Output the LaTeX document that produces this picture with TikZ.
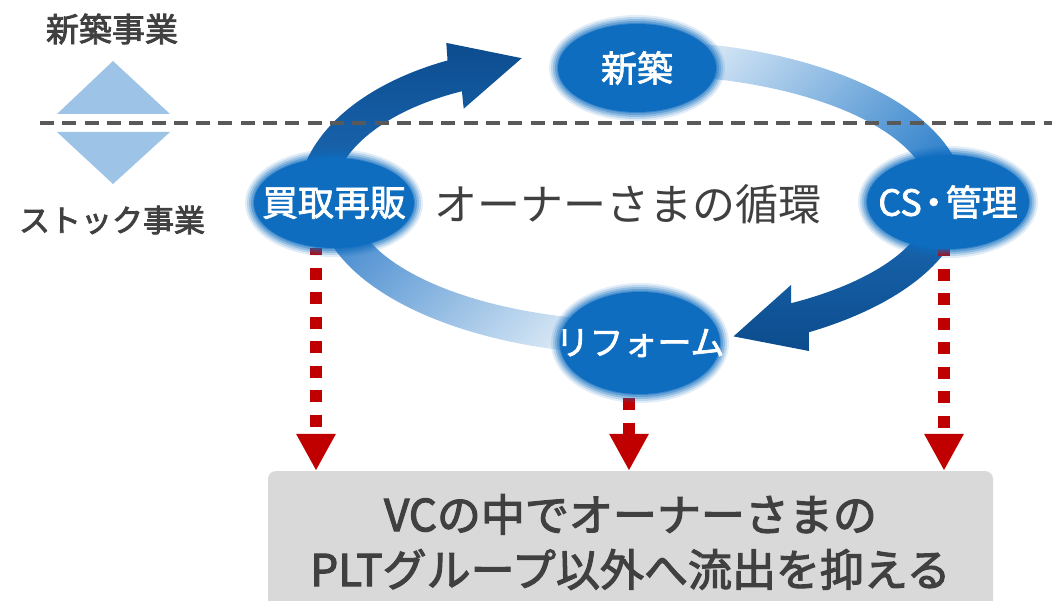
\documentclass[tikz,border=0pt]{standalone}
\usepackage{fontspec}
\setmainfont{Noto Sans CJK JP}
\newfontfamily\jpmed[FakeBold=2.6]{Noto Sans CJK JP}
\newfontfamily\jplite[FakeBold=2]{Noto Sans CJK JP}
\usetikzlibrary{shapes.geometric,arrows.meta}
\definecolor{nblue}{HTML}{0F6DC0}
\definecolor{lttwo}{HTML}{D8E8F6}
\definecolor{mdtwo}{HTML}{3584CC}
\definecolor{mdfour}{HTML}{4B8ED0}
\definecolor{ltfour}{HTML}{E2EEF8}
\definecolor{dkone}{HTML}{0C4C8E}
\definecolor{mdone}{HTML}{1D6CB8}
\definecolor{mdthree}{HTML}{1C6BB7}
\definecolor{dkthree}{HTML}{0C4C8C}
\definecolor{nred}{HTML}{C00000}
\definecolor{divgray}{HTML}{595959}
\definecolor{tgray}{HTML}{404040}
\definecolor{tri}{HTML}{9DC3E6}
\definecolor{boxgray}{HTML}{D9D9D9}
\pgfdeclarelayer{bg}
\pgfsetlayers{bg,main}
\tikzset{
  blob/.style={ellipse, fill=nblue, inner sep=0pt,
    preaction={draw=nblue, line width=18pt, draw opacity=0.12},
    preaction={draw=nblue, line width=14pt, draw opacity=0.18},
    preaction={draw=nblue, line width=10pt, draw opacity=0.25},
    preaction={draw=nblue, line width=6pt, draw opacity=0.35},
    preaction={draw=nblue, line width=2pt, draw opacity=0.5}},
  blobtext/.style={text=white, inner sep=0pt, font=\jplite\fontsize{36}{36}\selectfont},
  lbl/.style={text=tgray, inner sep=0pt},
  redline/.style={draw=nred, line width=12pt, dash pattern=on 12pt off 12.5pt,
    -{Triangle[length=37pt,width=37pt]}},
  divider/.style={draw=divgray, line width=3.5pt, dash pattern=on 14pt off 8.3pt},
  bottombox/.style={fill=boxgray, rounded corners=8pt, minimum width=725pt,
    minimum height=142pt, text=tgray, align=center, inner sep=0pt,
    font=\jpmed\fontsize{44}{55}\selectfont},
}
\begin{document}
\begin{tikzpicture}[x=1pt,y=-1pt]
\useasboundingbox (0,0) rectangle (1052,601);
\clip (0,0) rectangle (1052,601);

% left labels and triangles
\node[lbl, font=\jpmed\fontsize{33}{33}\selectfont] (newlbl) at (112,29) {新築事業};
\node[lbl, font=\jpmed\fontsize{31}{31}\selectfont] (stocklbl) at (112,220) {ストック事業};
\fill[tri] (113,61) -- (170,114) -- (57,114) -- cycle;
\fill[tri] (57,132) -- (170,132) -- (113,184) -- cycle;
\draw[divider] (40,123) -- (1052,123);

% nodes
\node[blob, minimum width=158pt, minimum height=88pt, label={[blobtext]center:新築}] (shin) at (637,68) {};
\node[blob, minimum width=160pt, minimum height=90pt, label={[blobtext]center:買取再販}] (buy) at (334,203) {};
\node[blob, minimum width=162pt, minimum height=94pt, label={[blobtext]center:CS\hspace{-6pt}・\hspace{-6pt}管理}] (cs) at (948,202) {};
\node[blob, minimum width=160pt, minimum height=102pt, label={[blobtext, font=\jplite\fontsize{34}{34}\selectfont]center:リフォーム}] (ref) at (640,343) {};

\node[lbl, font=\fontsize{43}{43}\selectfont] (cycle) at (628,204) {オーナーさまの循環};

\node[bottombox] (box) at (630.5,542) {VCの中でオーナーさまの\\PLTグループ以外へ流出を抑える};

\begin{pgfonlayer}{bg}
% arrow 1: buy -> shin
\shade[top color=dkone, bottom color=mdone]
  plot[domain=180:245,samples=40] ({557+259*cos(\x)},{200+154*sin(\x)})
  -- (446.3,42.9) -- (521.7,58.2) -- (463.7,108.7)
  -- plot[domain=245:180,samples=40] ({557+225*cos(\x)},{200+120*sin(\x)}) -- cycle;
% arrow 2: shin -> cs
\shade[top color=lttwo, bottom color=mdtwo, shading angle=45]
  plot[domain=270:360,samples=40] ({641+324*cos(\x)},{198+157*sin(\x)})
  -- plot[domain=360:270,samples=40] ({641+290*cos(\x)},{198+123*sin(\x)}) -- cycle;
% arrow 3: cs -> ref
\shade[top color=mdthree, bottom color=dkthree]
  plot[domain=0:58.8,samples=40] ({641+324*cos(\x)},{198+157*sin(\x)})
  -- (809,351) -- (733.5,336.4) -- (791,285)
  -- plot[domain=58.8:0,samples=40] ({641+290*cos(\x)},{198+123*sin(\x)}) -- cycle;
% arrow 4: ref -> buy
\shade[top color=mdfour, bottom color=ltfour, shading angle=45]
  plot[domain=90:180,samples=40] ({641+324*cos(\x)},{198+157*sin(\x)})
  -- plot[domain=180:90,samples=40] ({641+290*cos(\x)},{198+123*sin(\x)}) -- cycle;
% red connectors
\draw[redline, dash phase=5pt] ([xshift=-18pt]buy.south) -- ([xshift=-18pt]buy.south |- box.north);
\draw[redline, dash phase=20.5pt] ([xshift=-11pt]ref.south) -- ([xshift=-11pt]ref.south |- box.north);
\draw[redline, dash phase=5pt] ([xshift=-4pt]cs.south) -- ([xshift=-4pt]cs.south |- box.north);
\end{pgfonlayer}
\end{tikzpicture}
\end{document}
